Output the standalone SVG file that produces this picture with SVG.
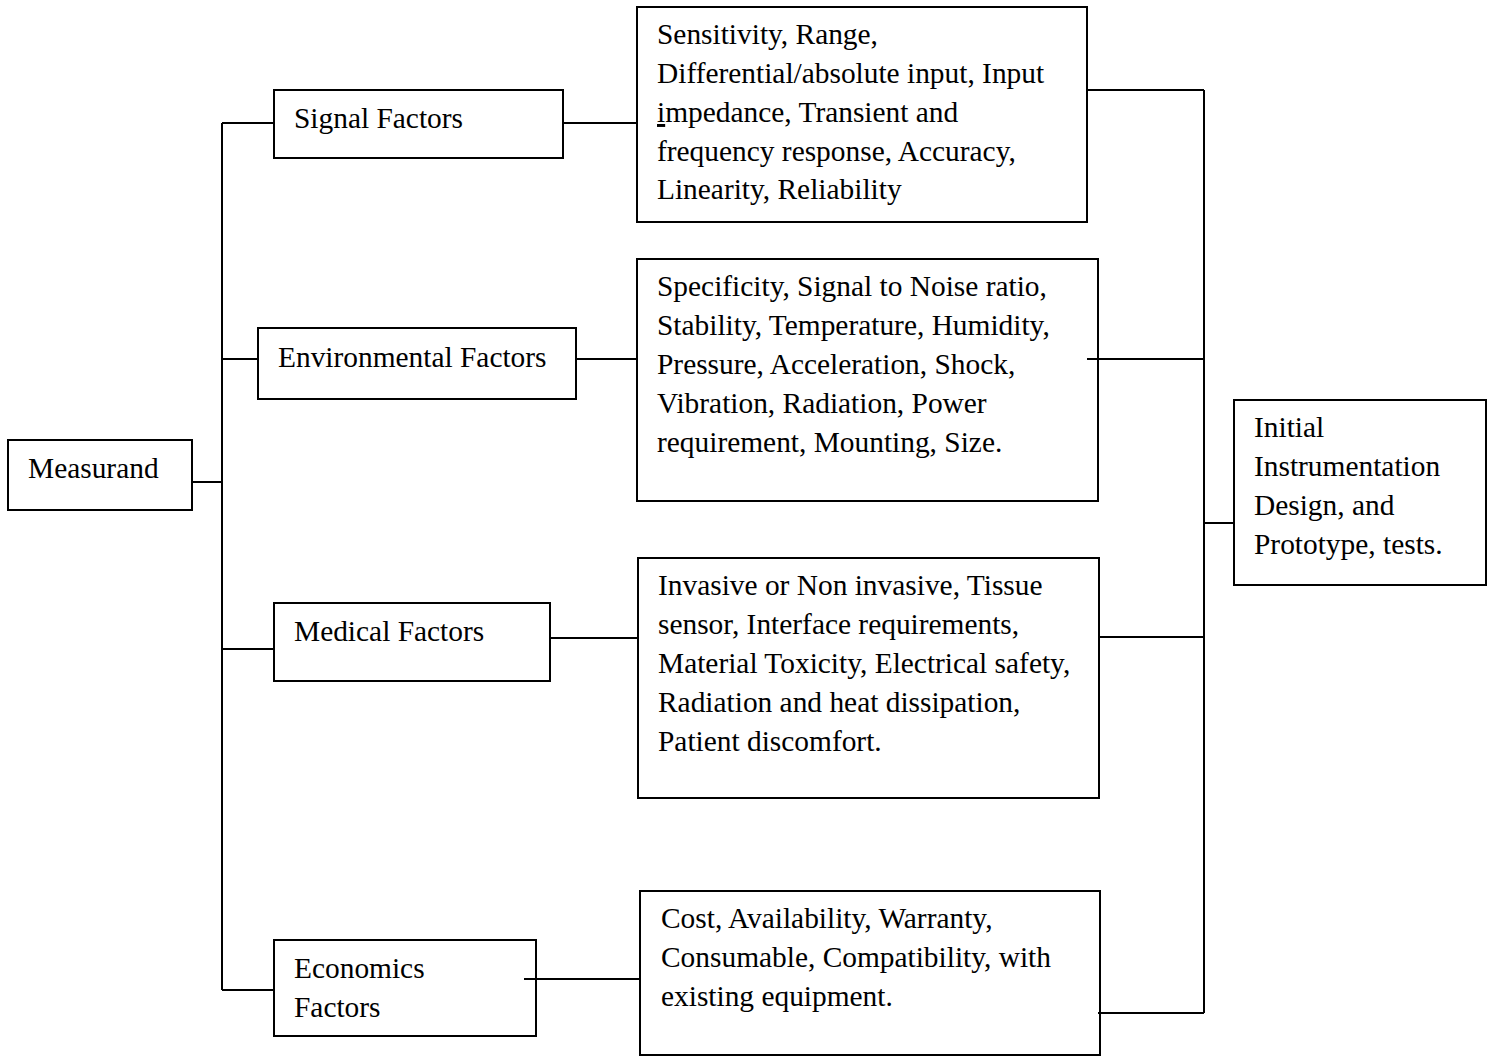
<svg xmlns="http://www.w3.org/2000/svg" width="1493" height="1057" viewBox="0 0 1493 1057">
<style>
.box{fill:none;stroke:#000;stroke-width:2}
.ln{fill:none;stroke:#000;stroke-width:2}
text{font-family:"Liberation Serif","Times New Roman",serif;font-size:29.4px;fill:#000}
</style>
<rect width="1493" height="1057" fill="#fff"/>
<g id="connectors">
<path class="ln" d="M222 123V990"/>
<path class="ln" d="M192 482H222"/>
<path class="ln" d="M222 123H274"/>
<path class="ln" d="M222 359H258"/>
<path class="ln" d="M222 649H274"/>
<path class="ln" d="M222 990H274"/>
<path class="ln" d="M563 123H637"/>
<path class="ln" d="M576 359H637"/>
<path class="ln" d="M550 638H638"/>
<path class="ln" d="M524 979H640"/>
<path class="ln" d="M1204 90V1013"/>
<path class="ln" d="M1087 90H1204"/>
<path class="ln" d="M1087 359H1204"/>
<path class="ln" d="M1099 637H1204"/>
<path class="ln" d="M1098 1013H1204"/>
<path class="ln" d="M1204 523H1234"/>
</g>
<g id="measurand">
<rect class="box" x="8" y="440" width="184" height="70"/>
<text x="28" y="478">Measurand</text>
</g>
<g id="signal-factors">
<rect class="box" x="274" y="90" width="289" height="68"/>
<text x="294" y="128">Signal Factors</text>
</g>
<g id="environmental-factors">
<rect class="box" x="258" y="328" width="318" height="71"/>
<text x="278" y="367">Environmental Factors</text>
</g>
<g id="medical-factors">
<rect class="box" x="274" y="603" width="276" height="78"/>
<text x="294" y="641">Medical Factors</text>
</g>
<g id="economics-factors">
<rect class="box" x="274" y="940" width="262" height="96"/>
<text x="294" y="978">Economics</text>
<text x="294" y="1017">Factors</text>
</g>
<g id="signal-details">
<rect class="box" x="637" y="7" width="450" height="215"/>
<text x="657" y="44">Sensitivity, Range,</text>
<text x="657" y="83">Differential/absolute input, Input</text>
<text x="657" y="122"><tspan text-decoration="underline">i</tspan>mpedance, Transient and</text>
<text x="657" y="161">frequency response, Accuracy,</text>
<text x="657" y="199">Linearity, Reliability</text>
</g>
<g id="environmental-details">
<rect class="box" x="637" y="259" width="461" height="242"/>
<text x="657" y="296">Specificity, Signal to Noise ratio,</text>
<text x="657" y="335">Stability, Temperature, Humidity,</text>
<text x="657" y="374">Pressure, Acceleration, Shock,</text>
<text x="657" y="413">Vibration, Radiation, Power</text>
<text x="657" y="452">requirement, Mounting, Size.</text>
</g>
<g id="medical-details">
<rect class="box" x="638" y="558" width="461" height="240"/>
<text x="658" y="595">Invasive or Non invasive, Tissue</text>
<text x="658" y="634">sensor, Interface requirements,</text>
<text x="658" y="673">Material Toxicity, Electrical safety,</text>
<text x="658" y="712">Radiation and heat dissipation,</text>
<text x="658" y="751">Patient discomfort.</text>
</g>
<g id="economics-details">
<rect class="box" x="640" y="891" width="460" height="164"/>
<text x="661" y="928">Cost, Availability, Warranty,</text>
<text x="661" y="967">Consumable, Compatibility, with</text>
<text x="661" y="1006">existing equipment.</text>
</g>
<g id="initial-design">
<rect class="box" x="1234" y="400" width="252" height="185"/>
<text x="1254" y="437">Initial</text>
<text x="1254" y="476">Instrumentation</text>
<text x="1254" y="515">Design, and</text>
<text x="1254" y="554">Prototype, tests.</text>
</g>
</svg>
